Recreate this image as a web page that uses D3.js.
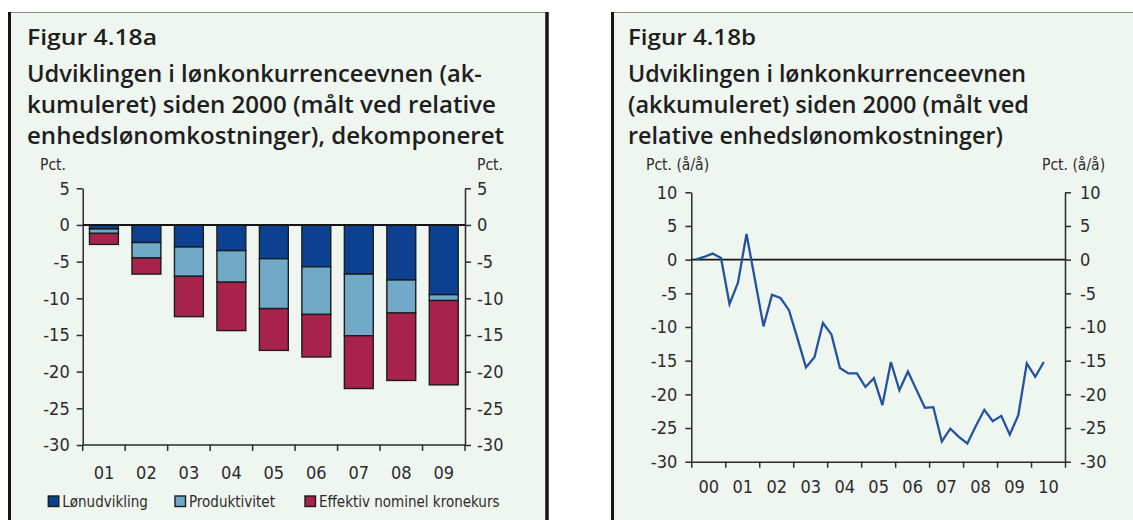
<!DOCTYPE html>
<html>
<head>
<meta charset="utf-8">
<script src="https://cdn.jsdelivr.net/npm/d3@7"></script>
<style>
  body { margin: 0; background: #fff; }
  svg { display: block; }
  .tick text, .lbl { font-family: "DejaVu Sans Condensed", "DejaVu Sans", sans-serif; font-stretch: condensed; fill: #2b2b2b; }
  .ttl { font-family: "Open Sans", "Noto Sans", sans-serif; font-weight: 600; fill: #1e1e1e; }
</style>
</head>
<body>
<div id="chart"></div>
<script>
// figur 4.18a: akkumuleret dekomponering, pct.
const years = ["01", "02", "03", "04", "05", "06", "07", "08", "09"];
const lonudvikling = [-0.55, -2.4, -3.0, -3.5, -4.6, -5.7, -6.7, -7.5, -9.5];
const produktivitet = [-0.6, -2.1, -4.0, -4.3, -6.8, -6.5, -8.4, -4.5, -0.8];
const kronekurs = [-1.5, -2.2, -5.5, -6.6, -5.7, -5.8, -7.2, -9.2, -11.5];
const seriesNames = ["Lønudvikling", "Produktivitet", "Effektiv nominel kronekurs"];
const leftTicks = [5, 0, -5, -10, -15, -20, -25, -30];

// figur 4.18b: kvartalsvis, 2000K1 - 2010K2
const quarterValues = [0, 0.4, 0.9, 0.25, -6.6, -3.4, 3.8, -3.0, -9.9, -5.2, -5.7, -7.5,
  -11.7, -16.0, -14.5, -9.4, -11.1, -16.1, -16.9, -16.9, -18.9, -17.6, -21.6, -15.2,
  -19.4, -16.6, -19.3, -22.0, -21.9, -27.0, -25.1, -26.3, -27.3, -24.7, -22.3, -24.0,
  -23.2, -26.0, -23.1, -15.4, -17.4, -15.2];
const yearLabels = ["00", "01", "02", "03", "04", "05", "06", "07", "08", "09", "10"];
const rightTicks = [10, 5, 0, -5, -10, -15, -20, -25, -30];

const titleA = ["Figur 4.18a", "Udviklingen i lønkonkurrenceevnen (ak-", "kumuleret) siden 2000 (målt ved relative", "enhedslønomkostninger), dekomponeret"];
const titleB = ["Figur 4.18b", "Udviklingen i lønkonkurrenceevnen", "(akkumuleret) siden 2000 (målt ved", "relative enhedslønomkostninger)"];

const width = 1133, height = 520;
const colors = ["#0c4191", "#71a9c9", "#a8234b"];
const bg = "#eff6f0";

const svg = d3.select("#chart").append("svg").attr("width", width).attr("height", height);
svg.append("rect").attr("width", width).attr("height", height).attr("fill", "#fff");

// panels
function panel(x0, x1) {
  svg.append("rect").attr("x", x0).attr("y", 12.5).attr("width", x1 - x0).attr("height", height).attr("fill", bg);
  svg.append("line").attr("x1", x0).attr("x2", x1).attr("y1", 12.5).attr("y2", 12.5).attr("stroke", "#8a8a8a").attr("stroke-width", 1);
  svg.append("line").attr("x1", x0 + 1.5).attr("x2", x0 + 1.5).attr("y1", 12).attr("y2", height).attr("stroke", "#151515").attr("stroke-width", 3);
}
panel(8, 548);
svg.append("line").attr("x1", 547).attr("x2", 547).attr("y1", 12).attr("y2", height).attr("stroke", "#151515").attr("stroke-width", 3.5);
panel(611, width + 2);

function titles(lines, x, widths) {
  const ys = [45, 82, 113, 144];
  lines.forEach((t, i) => {
    svg.append("text").attr("class", "ttl").attr("x", x).attr("y", ys[i])
      .attr("font-size", i === 0 ? 22 : 24)
      .attr("textLength", widths[i]).attr("lengthAdjust", "spacingAndGlyphs")
      .text(t);
  });
}
titles(titleA, 27, [130, 455, 469, 477]);
titles(titleB, 628, [128, 398, 401, 375]);

// ---- left: stacked bars ----
const x = d3.scaleBand().domain(years).range([82.7, 465]).paddingInner(0.32).paddingOuter(0.16);
const y = d3.scaleLinear().domain([-30, 5]).range([445, 188.3]);

const rows = years.map((yr, i) => ({ year: yr, a: lonudvikling[i], b: produktivitet[i], c: kronekurs[i] }));
const stack = d3.stack().keys(["a", "b", "c"]).offset(d3.stackOffsetDiverging)(rows);

svg.append("g").selectAll("g").data(stack).join("g")
  .attr("fill", (d, i) => colors[i])
  .selectAll("rect").data(d => d).join("rect")
  .attr("x", d => x(d.data.year))
  .attr("width", x.bandwidth())
  .attr("y", d => Math.min(y(d[0]), y(d[1])))
  .attr("height", d => Math.abs(y(d[1]) - y(d[0])))
  .attr("stroke", "#1c1c1c").attr("stroke-width", 1.4);

function styleAxis(g) {
  g.selectAll(".domain, .tick line").attr("stroke", "#2b2b2b").attr("stroke-width", 1.5);
  g.selectAll(".tick text").attr("font-size", 18).attr("fill", "#2b2b2b");
}
svg.append("g").attr("transform", "translate(82.7,0)")
  .call(d3.axisLeft(y).tickValues(leftTicks).tickFormat(d => String(d)).tickSize(6).tickSizeOuter(0).tickPadding(7))
  .call(styleAxis);
svg.append("g").attr("transform", "translate(465,0)")
  .call(d3.axisRight(y).tickValues(leftTicks).tickFormat(d => String(d)).tickSize(6).tickSizeOuter(0).tickPadding(6))
  .call(styleAxis).selectAll(".tick text").attr("text-anchor", "start");

// bottom axis: ticks at band borders, labels in band centres
const bx = svg.append("g").attr("transform", "translate(0,445)");
bx.append("line").attr("x1", 82.7).attr("x2", 465).attr("stroke", "#2b2b2b").attr("stroke-width", 1.5);
bx.selectAll("line.b").data(d3.range(years.length + 1)).join("line").attr("class", "b")
  .attr("x1", i => x.range()[0] + i * x.step()).attr("x2", i => x.range()[0] + i * x.step())
  .attr("y1", 0).attr("y2", 6).attr("stroke", "#2b2b2b").attr("stroke-width", 1.5);
svg.append("g").attr("transform", "translate(0,445)")
  .call(d3.axisBottom(x).tickSize(0).tickPadding(21))
  .call(g => g.select(".domain").remove())
  .call(styleAxis);

svg.append("line").attr("x1", 82.7).attr("x2", 465).attr("y1", y(0)).attr("y2", y(0))
  .attr("stroke", "#151515").attr("stroke-width", 2);

svg.append("text").attr("class", "lbl").attr("x", 40).attr("y", 170).attr("font-size", 15.5).text("Pct.");
svg.append("text").attr("class", "lbl").attr("x", 477).attr("y", 170).attr("font-size", 15.5).text("Pct.");

// legend
const legX = [48.3, 175, 305];
const leg = svg.append("g").selectAll("g").data(seriesNames).join("g")
  .attr("transform", (d, i) => `translate(${legX[i]},496)`);
leg.append("rect").attr("width", 10.5).attr("height", 10.5)
  .attr("fill", (d, i) => colors[i]).attr("stroke", "#1c1c1c").attr("stroke-width", 1.4);
leg.append("text").attr("class", "lbl").attr("x", 14).attr("y", 10.5).attr("font-size", 15).text(d => d);

// ---- right: line ----
const x2 = d3.scaleLinear().domain([2000, 2011]).range([691.3, 1065]);
const y2 = d3.scaleLinear().domain([-30, 10]).range([461.7, 192.3]);

svg.append("g").attr("transform", "translate(691.3,0)")
  .call(d3.axisLeft(y2).tickValues(rightTicks).tickFormat(d => String(d)).tickSize(6).tickSizeOuter(0).tickPadding(8))
  .call(styleAxis);
svg.append("g").attr("transform", "translate(1065,0)")
  .call(d3.axisRight(y2).tickValues(rightTicks).tickFormat(d => String(d)).tickSize(6).tickSizeOuter(0).tickPadding(9))
  .call(styleAxis).selectAll(".tick text").attr("text-anchor", "start");

const yearStarts = d3.range(yearLabels.length + 1).map(i => 2000 + i);
svg.append("g").attr("transform", "translate(0,461.7)")
  .call(d3.axisBottom(x2).tickValues(yearStarts).tickFormat("").tickSize(6).tickSizeOuter(0))
  .call(styleAxis);
svg.append("g").attr("transform", "translate(0,461.7)")
  .call(d3.axisBottom(x2).tickValues(yearLabels.map((d, i) => 2000.5 + i)).tickFormat((d, i) => yearLabels[i]).tickSize(0).tickPadding(19))
  .call(g => g.select(".domain").remove())
  .call(styleAxis);

svg.append("line").attr("x1", 691.3).attr("x2", 1065).attr("y1", y2(0)).attr("y2", y2(0))
  .attr("stroke", "#151515").attr("stroke-width", 1.6);

const line = d3.line().x((d, i) => x2(2000 + (i + 0.5) / 4)).y(d => y2(d));
svg.append("path").datum(quarterValues).attr("d", line)
  .attr("fill", "none").attr("stroke", "#23529f").attr("stroke-width", 2.3).attr("stroke-linejoin", "miter");

svg.append("text").attr("class", "lbl").attr("x", 646).attr("y", 170).attr("font-size", 15.5).text("Pct. (å/å)");
svg.append("text").attr("class", "lbl").attr("x", 1042).attr("y", 170).attr("font-size", 15.5).text("Pct. (å/å)");
</script>
</body>
</html>
